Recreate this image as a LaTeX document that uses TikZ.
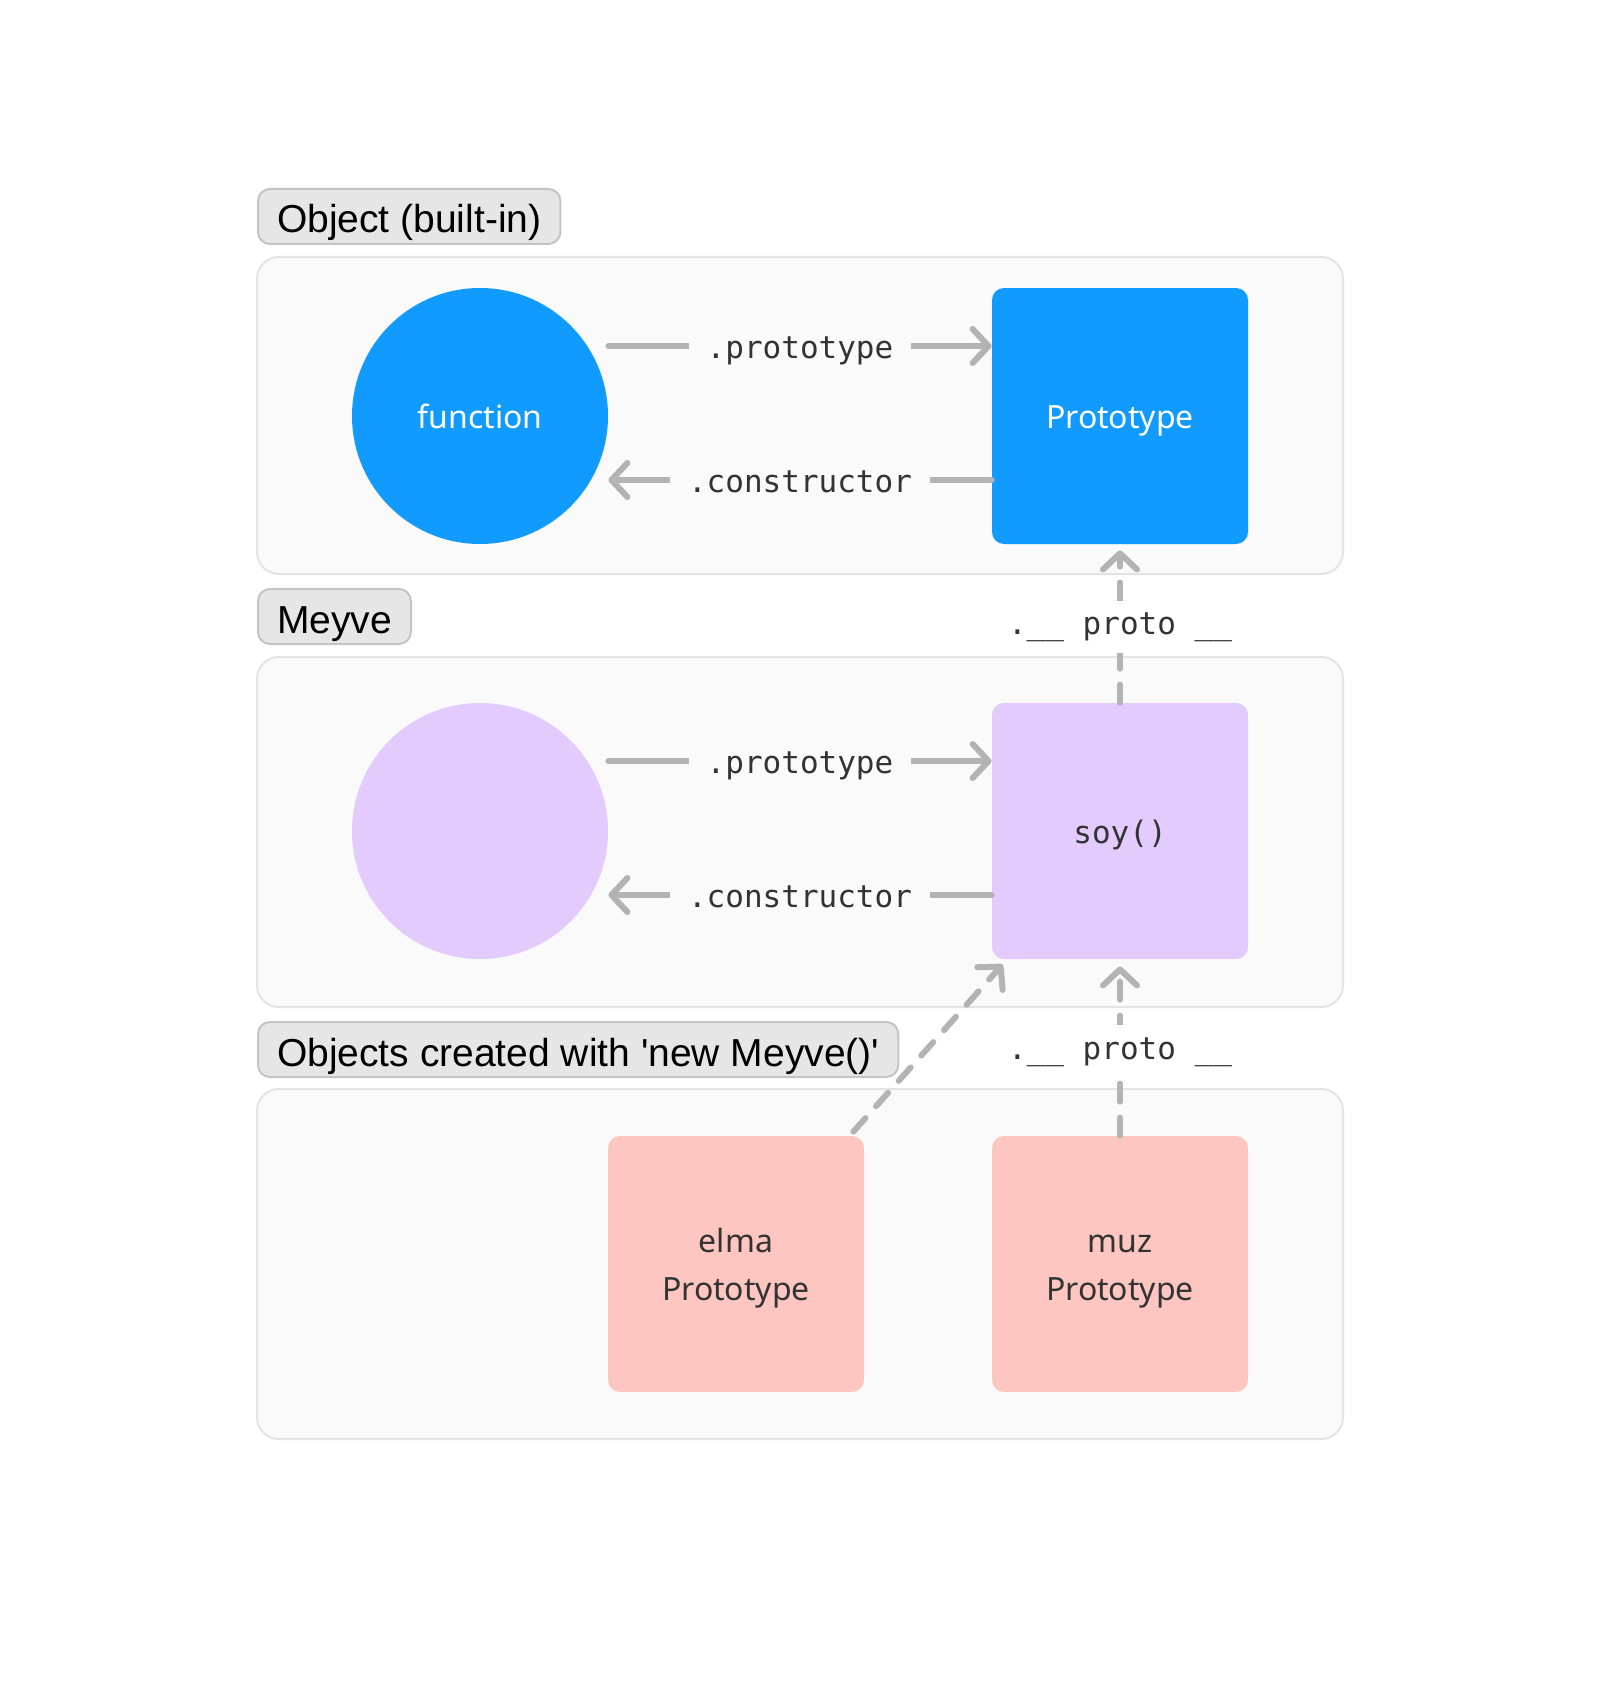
\documentclass[tikz,border=0pt]{standalone}
\usepackage{fontspec}
\setmainfont{Liberation Sans}
\newfontfamily\bodyfont{Noto Sans}
\newfontfamily\codefont{DejaVu Sans Mono}
\usetikzlibrary{arrows.meta,calc}

\definecolor{fnblue}{HTML}{119AFF}
\definecolor{lilac}{HTML}{E3CCFD}
\definecolor{salmon}{HTML}{FDC6C1}
\definecolor{panelbg}{HTML}{FAFAFA}
\definecolor{panelline}{HTML}{E4E4E4}
\definecolor{tagbg}{HTML}{E6E6E6}
\definecolor{tagline}{HTML}{C4C4C4}
\definecolor{wire}{HTML}{B3B3B3}
\definecolor{ink}{HTML}{333333}

\tikzset{
  panel/.style={draw=panelline,fill=panelbg,line width=1pt,rounded corners=11pt},
  tag/.style={draw=tagline,fill=tagbg,line width=1pt,rounded corners=6pt,anchor=north west,
    minimum height=27.5pt,inner xsep=9.5pt,text height=16.5pt,text depth=0pt,text=black,
    font=\fontsize{19.5}{22}\selectfont},
  disc/.style={circle,minimum size=128pt,inner sep=0pt,text height=12pt,text depth=0pt,
    font=\bodyfont\fontsize{16}{20}\selectfont},
  card/.style={rectangle,rounded corners=6pt,minimum size=128pt,inner sep=0pt,align=center,
    text height=12pt,text depth=0pt,font=\bodyfont\fontsize{16}{24}\selectfont},
  twoline/.style={text height=36pt,text depth=0pt},
  link/.style={draw=wire,line width=3pt,line cap=round,-{Straight Barb[length=8pt,width=17pt,round]}},
  protolink/.style={link,dash pattern=on 9pt off 8pt},
  lbl/.style={fill=panelbg,inner xsep=9pt,inner ysep=2pt,text height=12pt,text depth=0pt,
    text=ink,font=\codefont\fontsize{15.5}{18}\selectfont},
  protolbl/.style={lbl,fill=white,text height=12pt,text depth=4pt,inner ysep=5pt}
}

\begin{document}
\begin{tikzpicture}[x=0.5pt,y=-0.5pt]
        \useasboundingbox (0,0) rectangle (1600,1696);
        \fill[white] (0,0) rectangle (1600,1696);
        % groups
        \draw[panel] (257,257) rectangle (1343,574);
        \draw[panel] (257,657) rectangle (1343,1007);
        \draw[panel] (257,1089) rectangle (1343,1439);
        \node[tag] (tagobj) at (257,188) {Object (built-in)};
        \node[tag] (tagmv) at (257,588) {Meyve};
        \node[tag] (tagnew) at (257,1021) {Objects created with \textquotesingle new Meyve()\textquotesingle};
        % objects
        \node[disc,fill=fnblue,text=white] (fn) at (480,416) {function};
        \node[card,fill=fnblue,text=white] (pr) at (1120,416) {Prototype};
        \node[disc,fill=lilac] (mv) at (480,831) {};
        \node[card,fill=lilac,text=ink,font=\codefont\fontsize{15.5}{18}\selectfont] (soy) at (1120,831) {soy()};
        \node[card,twoline,fill=salmon,text=ink] (elma) at (736,1264) {elma\\Prototype};
        \node[card,twoline,fill=salmon,text=ink] (muz) at (1120,1264) {muz\\Prototype};
        % links
        \draw[link] ($(fn.east)+(0,-70)$) -- node[lbl]{.prototype} ($(pr.west)+(0,-70)$);
        \draw[link] ($(pr.west)+(0,64)$) -- node[lbl]{.constructor} ($(fn.east)+(0,64)$);
        \draw[link] ($(mv.east)+(0,-70)$) -- node[lbl]{.prototype} ($(soy.west)+(0,-70)$);
        \draw[link] ($(soy.west)+(0,64)$) -- node[lbl]{.constructor} ($(mv.east)+(0,64)$);
        \draw[protolink] (soy.north) -- node[protolbl]{.\_\_ proto \_\_} ($(pr.south)+(0,6)$);
        \draw[protolink] (muz.north) -- node[protolbl]{.\_\_ proto \_\_} ($(soy.south)+(0,7)$);
        \draw[protolink] ($(elma.north east)+(-11,-4)$) -- ($(soy.south west)+(11,5)$);
\end{tikzpicture}
\end{document}
